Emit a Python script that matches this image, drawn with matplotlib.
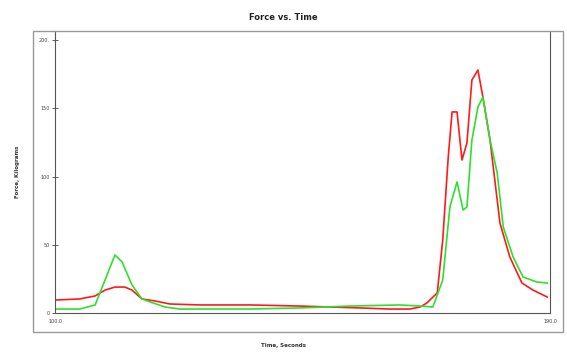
import matplotlib
matplotlib.use('Agg')
import matplotlib.pyplot as plt
from matplotlib.patches import Rectangle

# time (s) and force (kg)
red_t = [100.0, 104.5, 107.3, 109.1, 110.9, 112.7, 114.0, 115.8, 118.2, 120.9,
         126.4, 135.5, 144.5, 150.0, 155.5, 160.9, 164.5, 166.4, 167.6, 169.5,
         170.5, 171.5, 172.2, 173.1, 174.0, 174.9, 175.8, 176.9, 177.8, 179.1,
         180.9, 182.7, 184.9, 186.9, 189.5]
red_f = [9.5, 10.3, 12.5, 16.8, 19.0, 19.0, 16.8, 10.3, 8.8, 6.6,
         5.9, 5.9, 5.1, 4.4, 3.7, 2.9, 2.9, 4.4, 7.3, 14.7,
         53.5, 114.3, 147.3, 147.3, 112.1, 124.5, 170.7, 178.0, 158.2, 126.7,
         65.9, 41.0, 22.0, 16.8, 11.7]

green_t = [100.0, 104.5, 107.3, 109.1, 110.9, 112.2, 114.0, 115.8, 117.3, 120.0,
           122.7, 135.5, 144.5, 153.6, 162.7, 166.4, 168.7, 170.5, 171.8, 173.1,
           174.2, 174.9, 175.8, 176.9, 177.8, 179.1, 180.4, 181.5, 183.3, 185.1,
           187.6, 189.5]
green_f = [2.9, 2.9, 5.9, 24.2, 42.5, 37.4, 20.5, 10.3, 8.1, 4.4,
           2.9, 2.9, 3.7, 5.1, 5.9, 5.1, 4.4, 24.2, 77.7, 96.0,
           75.5, 77.7, 126.7, 150.9, 158.2, 126.7, 102.6, 63.0, 41.0, 26.4,
           22.7, 22.0]

y_ticks = [0, 50, 100, 150, 200]
y_labels = ['0', '50', '100', '150', '200.']
x_ticks = [100, 190]
x_labels = ['100.0', '190.0']

fig = plt.figure(figsize=(5.67, 3.58), dpi=100)

# outer grey frame around the plot panel
fig.patches.append(Rectangle((0.058, 0.073), 0.935, 0.841, transform=fig.transFigure,
                             fill=False, edgecolor='#999999', linewidth=1.0))

ax = fig.add_axes([0.097, 0.1257, 0.873, 0.7877])
ax.plot(red_t, red_f, color='#ff1a1a', linewidth=1.2)
ax.plot(green_t, green_f, color='#2ee02e', linewidth=1.2)

ax.set_xlim(100, 190)
ax.set_ylim(0, 206.6)
ax.spines['top'].set_visible(False)
for s in ['left', 'right', 'bottom']:
    ax.spines[s].set_color('#555555')
    ax.spines[s].set_linewidth(0.8)

ax.set_yticks(y_ticks)
ax.set_yticklabels(y_labels)
ax.set_xticks(x_ticks)
ax.set_xticklabels(x_labels)
ax.tick_params(axis='y', direction='inout', length=4, width=0.6, labelsize=3.5,
               colors='#444444', pad=2)
ax.tick_params(axis='x', length=0, labelsize=3.5, colors='#444444', pad=4)

fig.text(0.5, 0.952, 'Force vs. Time', ha='center', va='center',
         fontsize=6, fontweight='bold', color='#222222')
fig.text(0.5, 0.036, 'Time, Seconds', ha='center', va='center',
         fontsize=4, fontweight='bold', color='#333333')
fig.text(0.03, 0.52, 'Force, Kilograms', ha='center', va='center', rotation=90,
         fontsize=4, fontweight='bold', color='#333333')

fig.savefig('out.png', dpi=100)
